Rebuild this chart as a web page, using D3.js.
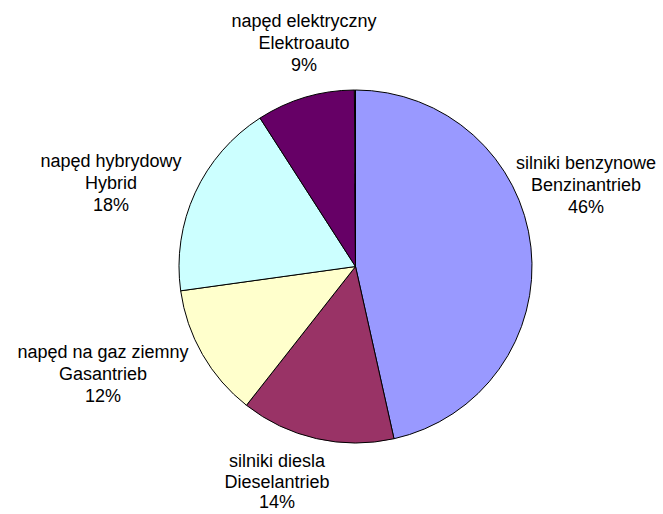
<!DOCTYPE html>
<html><head><meta charset="utf-8">
<script src="https://cdn.jsdelivr.net/npm/d3@7"></script>
<style>html,body{margin:0;padding:0;background:#fff;}svg{display:block;}</style>
</head><body>
<svg id="chart" width="663" height="514"></svg>
<script>
// ---- data ----
const categoriesPL = ["silniki benzynowe", "silniki diesla", "napęd na gaz ziemny", "napęd hybrydowy", "napęd elektryczny", ""];
const categoriesDE = ["Benzinantrieb", "Dieselantrieb", "Gasantrieb", "Hybrid", "Elektroauto", ""];
const values = [46.5, 14.1, 12.2, 18.1, 9.0, 0.1];
const percentLabels = ["46%", "14%", "12%", "18%", "9%", ""];
const colors = ["#9999FF", "#993366", "#FFFFCC", "#CCFFFF", "#660066", "#FFFFFF"];

// ---- layout (label first-line anchor: x center, baseline y, line spacing) ----
const labelLayout = [
  {x: 586, y: 169, lh: 22},
  {x: 277, y: 467, lh: 20.5},
  {x: 103, y: 358, lh: 22},
  {x: 111, y: 167, lh: 22},
  {x: 304, y: 27, lh: 22},
  null
];
const cx = 355.5, cy = 266.5, radius = 176.5;

const svg = d3.select("#chart");
const g = svg.append("g").attr("transform", `translate(${cx},${cy})`);

const pie = d3.pie().sort(null).value(d => d).startAngle(0).endAngle(2 * Math.PI);
const arcs = pie(values);
const arc = d3.arc().innerRadius(0).outerRadius(radius);

g.selectAll("path.slice")
  .data(arcs)
  .join("path")
  .attr("class", "slice")
  .attr("d", arc)
  .attr("fill", (d, i) => colors[i])
  .attr("stroke", "#000")
  .attr("stroke-width", 1)
  .attr("stroke-linejoin", "round");

const labels = svg.append("g")
  .attr("font-family", "'Liberation Sans', Arial, sans-serif")
  .attr("font-size", 18)
  .attr("fill", "#000")
  .attr("text-anchor", "middle");

values.forEach((v, i) => {
  const pos = labelLayout[i];
  if (!pos) return;
  const t = labels.append("text").attr("x", pos.x).attr("y", pos.y);
  [categoriesPL[i], categoriesDE[i], percentLabels[i]].forEach((line, k) => {
    t.append("tspan").attr("x", pos.x).attr("y", pos.y + k * pos.lh).text(line);
  });
});
</script>
</body></html>
